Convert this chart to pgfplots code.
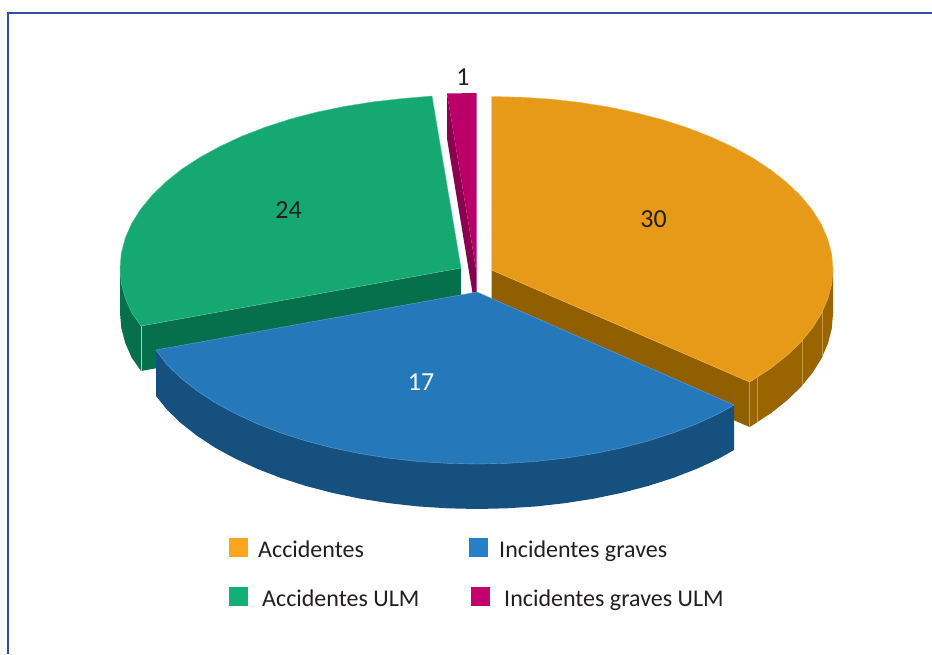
\documentclass[border=0pt]{standalone}
\usepackage{pgfplots}
\pgfplotsset{compat=1.18}
\usepackage{fontspec}
\setmainfont{Carlito}
\definecolor{or}{HTML}{E79A18}
\definecolor{orw}{HTML}{9A6500}
\definecolor{ori}{HTML}{8F5F00}
\definecolor{orl}{HTML}{C49A48}
\definecolor{bl}{HTML}{2579BB}
\definecolor{blw}{HTML}{15507F}
\definecolor{gr}{HTML}{15A873}
\definecolor{grw}{HTML}{06704D}
\definecolor{ma}{HTML}{BA0068}
\definecolor{maw}{HTML}{8A0050}
\definecolor{frame}{HTML}{2E4DA7}
\definecolor{txt}{HTML}{231F20}
\definecolor{kor}{HTML}{FBA61E}
\definecolor{kbl}{HTML}{2680C7}
\definecolor{kgr}{HTML}{12B076}
\definecolor{kma}{HTML}{C4006E}
\begin{document}
\begin{tikzpicture}[x=1pt,y=1pt]
\useasboundingbox (0,0) rectangle (932,654);
\begin{axis}[at={(0,0)},anchor=south west,scale only axis,width=932pt,height=654pt,
  xmin=0,xmax=932,ymin=0,ymax=654,y dir=reverse,hide axis,clip=false,no markers,
  every axis plot/.append style={forget plot}]
% frame
\addplot[frame,line width=2pt] coordinates {(8,654)(8,13)(932,13)};
% green outer wall
\addplot[fill=grw,draw=none] coordinates {(120,268)(120,313)(121.3,328)(125.2,342.9)(131.6,357.5)(141,371)(141,326)} -- cycle;
% green inner wall
\addplot[fill=grw,draw=none] coordinates {(461,268)(141,326)(141,371)(461,313)} -- cycle;
\addplot[color=gr!45!white,line width=0.3pt] coordinates {(141,326)(141,371)};
% orange outer wall
\addplot[fill=orw,draw=none] coordinates {(833,269)(833,314)(831.7,329)(827.8,343.9)(821.4,358.6)(812.4,373)(801,386.9)(787.2,400.25)(771.3,412.9)(753.1,424.9)(749.5,427)(749.5,382)} -- cycle;
% orange inner wall
\addplot[fill=ori,draw=none] coordinates {(491.5,270)(749.5,382)(749.5,427)(491.5,315)} -- cycle;
\addplot[color=orl,line width=0.5pt] coordinates {(749.5,382)(749.5,427)};
\addplot[color=orl,line width=0.8pt] coordinates {(757.5,377)(757.5,422)};
\addplot[color=orl,line width=0.8pt] coordinates {(802.5,340)(802.5,385)};
\addplot[color=orl,line width=0.8pt] coordinates {(822.5,312)(822.5,357)};
% magenta wall
\addplot[fill=maw,draw=none] coordinates {(447,93.5)(476.5,272)(476.5,317)(447,138.5)} -- cycle;
% top faces
\addplot[fill=or,draw=or!70!white,line width=0.4pt] coordinates {(491.5,270)(491.5,96.5)(521.3,97.2)(550.8,99.1)(579.9,102.4)(608.3,106.9)(635.8,112.7)(662.3,119.6)(687.4,127.7)(711,136.9)(733,147)(753.1,158.1)(771.3,170.1)(787.2,182.8)(801,196.1)(812.4,210)(821.4,224.4)(827.8,239.1)(831.7,254)(833,269)(831.7,284)(827.8,298.9)(821.4,313.6)(812.4,328)(801,341.9)(787.2,355.25)(771.3,367.9)(753.1,379.9)(749.5,382)} -- cycle;
\addplot[fill=gr,draw=gr!70!white,line width=0.4pt] coordinates {(461,268)(432,96)(401.8,98.6)(372.7,101.9)(344.4,106.4)(316.9,112.1)(290.5,119)(265.4,127.1)(241.8,136.2)(219.9,146.4)(199.8,157.4)(181.6,169.3)(165.7,182)(152,195.3)(140.6,209.2)(131.6,223.5)(125.2,238.1)(121.3,253)(120,268)(121.3,283)(125.2,297.9)(131.6,312.5)(141,326)} -- cycle;
\addplot[fill=ma,draw=none] coordinates {(447,93.5)(476.5,93)(476.5,272)} -- cycle;
% blue
\addplot[fill=blw,draw=none] coordinates {(734,405)(734,450)(718.8,458.6)(696.8,468.8)(673.2,477.9)(648,486)(621.5,492.9)(594,498.6)(565.5,503.1)(536.4,506.4)(506.8,508.3)(477,509)(447.2,508.3)(417.6,506.4)(388.5,503.1)(360,498.6)(332.5,492.9)(306,486)(280.8,477.9)(257.2,468.8)(235.2,458.6)(215,447.6)(196.9,435.7)(180.8,423)(167,409.7)(156,396)(156,350)} -- cycle;
\addplot[fill=bl,draw=bl!70!white,line width=0.4pt] coordinates {(477,292)(734,405)(718.8,413.6)(696.8,423.8)(673.2,432.9)(648,441)(621.5,447.9)(594,453.6)(565.5,458.1)(536.4,461.4)(506.8,463.3)(477,464)(447.2,463.3)(417.6,461.4)(388.5,458.1)(360,453.6)(332.5,447.9)(306,441)(280.8,432.9)(257.2,423.8)(235.2,413.6)(215,402.6)(196.9,390.7)(180.8,378)(167,364.7)(156,350)} -- cycle;
% legend keys
\addplot[fill=kor,draw=none] coordinates {(229,538)(248,538)(248,557)(229,557)} -- cycle;
\addplot[fill=kbl,draw=none] coordinates {(469,538)(488,538)(488,557)(469,557)} -- cycle;
\addplot[fill=kgr,draw=none] coordinates {(229,587)(248,587)(248,606)(229,606)} -- cycle;
\addplot[fill=kma,draw=none] coordinates {(471,587)(490,587)(490,606)(471,606)} -- cycle;
% texts
\node[anchor=base,text=txt,font=\fontsize{26}{30}\selectfont] at (axis cs:653.5,227) {30};
\node[anchor=base,text=txt,font=\fontsize{26}{30}\selectfont] at (axis cs:288.5,218) {24};
\node[anchor=base,text=white,font=\fontsize{26}{30}\selectfont] at (axis cs:421,390) {17};
\node[anchor=base,text=txt,font=\fontsize{26}{30}\selectfont] at (axis cs:463,85) {1};
\node[anchor=base west,inner sep=0pt,text=txt,font=\fontsize{24}{28}\selectfont] at (axis cs:258,557) {Accidentes};
\node[anchor=base west,inner sep=0pt,text=txt,font=\fontsize{24}{28}\selectfont] at (axis cs:499,557) {Incidentes graves};
\node[anchor=base west,inner sep=0pt,text=txt,font=\fontsize{24}{28}\selectfont] at (axis cs:262,606) {Accidentes ULM};
\node[anchor=base west,inner sep=0pt,text=txt,font=\fontsize{24}{28}\selectfont] at (axis cs:504,606) {Incidentes graves ULM};
\end{axis}
\end{tikzpicture}
\end{document}
